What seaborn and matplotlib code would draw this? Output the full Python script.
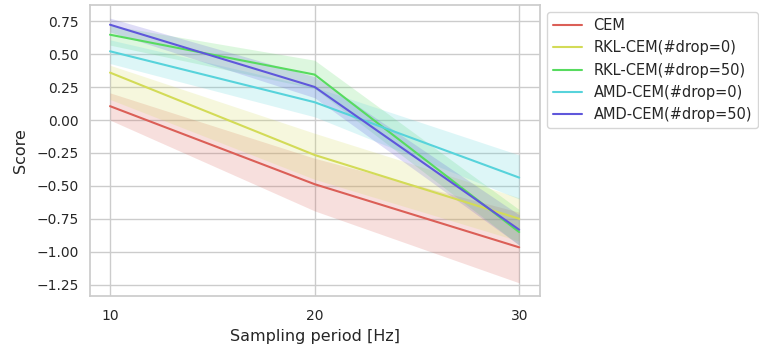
import numpy as np
import pandas as pd
import matplotlib
matplotlib.use("Agg")
import matplotlib.pyplot as plt
import seaborn as sns

periods = [10, 20, 30]
methods = ["CEM", "RKL-CEM(#drop=0)", "RKL-CEM(#drop=50)", "AMD-CEM(#drop=0)", "AMD-CEM(#drop=50)"]

cem_mean = [0.106, -0.487, -0.967]
cem_lo = [0.0, -0.69, -1.237]
cem_hi = [0.207, -0.29, -0.70]

rkl0_mean = [0.361, -0.265, -0.75]
rkl0_lo = [0.157, -0.45, -0.92]
rkl0_hi = [0.417, -0.10, -0.59]

rkl50_mean = [0.649, 0.346, -0.851]
rkl50_lo = [0.57, 0.24, -0.95]
rkl50_hi = [0.72, 0.455, -0.68]

amd0_mean = [0.523, 0.136, -0.437]
amd0_lo = [0.43, 0.025, -0.60]
amd0_hi = [0.61, 0.25, -0.265]

amd50_mean = [0.725, 0.252, -0.833]
amd50_lo = [0.67, 0.17, -0.95]
amd50_hi = [0.775, 0.33, -0.72]

means = [cem_mean, rkl0_mean, rkl50_mean, amd0_mean, amd50_mean]
los = [cem_lo, rkl0_lo, rkl50_lo, amd0_lo, amd50_lo]
his = [cem_hi, rkl0_hi, rkl50_hi, amd0_hi, amd50_hi]

rows = []
for m, mu in zip(methods, means):
    for p, v in zip(periods, mu):
        rows.append({"Sampling period [Hz]": p, "Score": v, "method": m})
df = pd.DataFrame(rows)

sns.set_theme(style="whitegrid")
plt.rcParams["font.family"] = ["DejaVu Sans"]
palette = sns.color_palette("hls", 6)[:5]

fig = plt.figure(figsize=(7.59, 3.5), dpi=100)
ax = fig.add_axes([0.118, 0.154, 0.593, 0.832])
sns.lineplot(data=df, x="Sampling period [Hz]", y="Score", hue="method",
             hue_order=methods, palette=palette, ax=ax, linewidth=1.5)
for c, lo, hi in zip(palette, los, his):
    ax.fill_between(periods, lo, hi, color=c, alpha=0.2, linewidth=0)
ax.set_xticks(periods)
ax.set_yticks(np.arange(-1.25, 0.76, 0.25))
ax.tick_params(axis="y", labelsize=10, length=0, pad=8)
ax.tick_params(axis="x", labelsize=10, length=0, pad=9.5)
ax.set_xlabel("Sampling period [Hz]", fontsize=11.5, labelpad=4)
ax.set_ylabel("Score", fontsize=11.5, labelpad=6)
ax.legend(loc="upper left", bbox_to_anchor=(1.0, 1.0), title=None, fontsize=10.5)
fig.savefig("out.png", dpi=100)
